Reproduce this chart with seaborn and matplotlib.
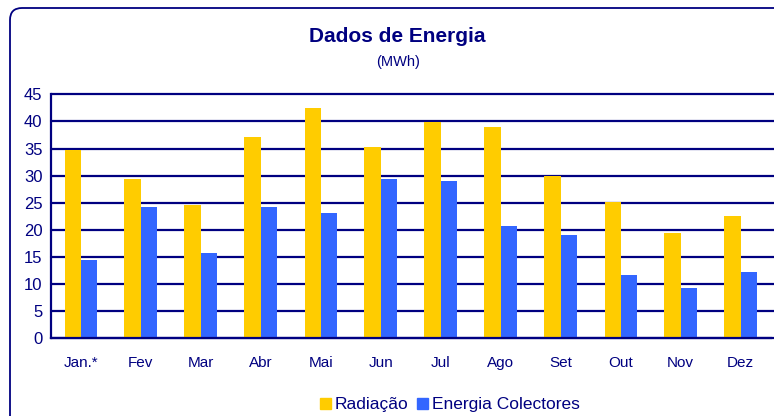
import pandas as pd
import seaborn as sns
import matplotlib.pyplot as plt
from matplotlib.patches import FancyBboxPatch

# Monthly values (MWh)
meses = ["Jan.*", "Fev", "Mar", "Abr", "Mai", "Jun", "Jul", "Ago", "Set", "Out", "Nov", "Dez"]
radiacao = [34.7, 29.3, 24.5, 37.1, 42.4, 35.3, 39.8, 39.0, 30.0, 25.1, 19.4, 22.5]
energia_colectores = [14.4, 24.2, 15.7, 24.2, 23.2, 29.3, 29.0, 20.8, 19.1, 11.7, 9.3, 12.3]
series = ["Radiação", "Energia Colectores"]
y_ticks = [0, 5, 10, 15, 20, 25, 30, 35, 40, 45]

navy = "#000080"
cores = ["#FFCC00", "#3366FF"]

df = pd.DataFrame({
    "mes": meses * 2,
    "valor": radiacao + energia_colectores,
    "serie": [series[0]] * len(meses) + [series[1]] * len(meses),
})

sns.set_style("white")
plt.rcParams["font.family"] = ["Liberation Sans", "DejaVu Sans"]

fig = plt.figure(figsize=(7.74, 4.16), dpi=100)
ax = fig.add_axes([50.7 / 774, 1 - 338.3 / 416, 720 / 774, 244 / 416])
ax.set_clip_on(False)

# Grid lines behind bars (run to the right edge of the figure)
for v in y_ticks:
    ax.axhline(v, xmin=0, xmax=723.3 / 720, color=navy, lw=1.6, zorder=0, clip_on=False)

sns.barplot(
    data=df, x="mes", y="valor", hue="serie",
    palette=cores, width=0.54, saturation=1,
    edgecolor="none", ax=ax, zorder=2,
)
ax.legend_.remove()

ax.set_xlim(-0.5, 11.5)
ax.set_ylim(0, 45)
ax.set_yticks(y_ticks)
ax.set_xlabel("")
ax.set_ylabel("")

for s in ["top", "right"]:
    ax.spines[s].set_visible(False)
for s in ["left", "bottom"]:
    ax.spines[s].set_color(navy)
    ax.spines[s].set_linewidth(1.6)

ax.set_xticks([i - 0.5 for i in range(13)], minor=True)
ax.tick_params(axis="x", which="major", length=0, pad=13, labelsize=11, labelcolor=navy)
ax.tick_params(axis="x", which="minor", length=5, width=1.5, color=navy, direction="out")
ax.tick_params(axis="y", length=4, width=1.5, color=navy, direction="out",
               labelsize=12, labelcolor=navy, pad=2)

# Titles
fig.text(397 / 774, 1 - 37 / 416, "Dados de Energia", ha="center", va="center",
         fontsize=15, fontweight="bold", color=navy)
fig.text(398 / 774, 1 - 62 / 416, "(MWh)", ha="center", va="center",
         fontsize=10.5, color=navy)

# Legend
fig.legend(
    handles=[plt.Rectangle((0, 0), 1, 1, color=c) for c in cores],
    labels=series, loc="center", bbox_to_anchor=(450 / 774, 1 - 405 / 416),
    ncol=2, frameon=False, handlelength=0.6, handleheight=0.6, handletextpad=0.25,
    columnspacing=0.5, fontsize=12.5, labelcolor=navy,
)

# Rounded outer frame
frame = FancyBboxPatch(
    (0.10, -0.3), 8.0, 4.38, boxstyle="round,pad=0,rounding_size=0.12",
    transform=fig.dpi_scale_trans, fill=False, edgecolor=navy, lw=1.3,
)
fig.patches.append(frame)

plt.savefig("out.png", dpi=100)
